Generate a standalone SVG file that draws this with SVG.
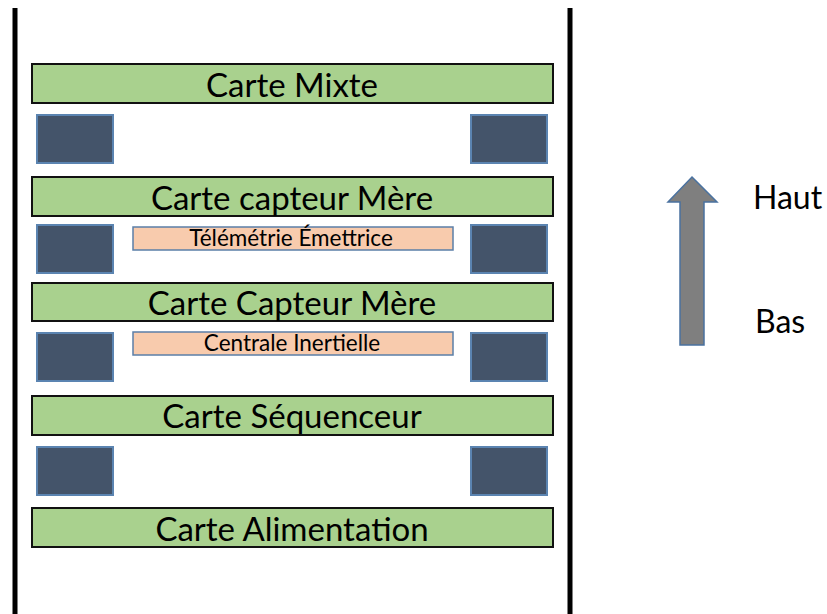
<svg xmlns="http://www.w3.org/2000/svg" width="827" height="614" viewBox="0 0 827 614">
  <style>
    .wall { stroke: #000; stroke-width: 5; }
    .card rect { fill: #A9D18E; stroke: #111; stroke-width: 2; }
    .spacer { fill: #44546A; stroke: #5B84B1; stroke-width: 2; }
    .module rect { fill: #F8CBAD; stroke: #5B7FA8; stroke-width: 1.5; }
    text { font-family: Lato, "Open Sans", "Liberation Sans", sans-serif; fill: #000; }
    .big { font-size: 33px; text-anchor: middle; }
    .small { font-size: 22.5px; text-anchor: middle; }
    .side { font-size: 32px; }
  </style>

  <!-- housing walls -->
  <g id="walls">
    <line class="wall" x1="15" y1="8" x2="15" y2="614"/>
    <line class="wall" x1="570" y1="8" x2="570" y2="614"/>
  </g>

  <!-- spacers between the cards -->
  <g id="spacers">
    <rect class="spacer" x="37" y="115" width="76" height="48"/>
    <rect class="spacer" x="471" y="115" width="76" height="48"/>
    <rect class="spacer" x="37" y="225" width="76" height="48"/>
    <rect class="spacer" x="471" y="225" width="76" height="48"/>
    <rect class="spacer" x="37" y="333" width="76" height="48"/>
    <rect class="spacer" x="471" y="333" width="76" height="48"/>
    <rect class="spacer" x="37" y="447" width="76" height="48"/>
    <rect class="spacer" x="471" y="447" width="76" height="48"/>
  </g>

  <!-- electronic cards -->
  <g id="carte-mixte" class="card">
    <rect x="32" y="64" width="521" height="39"/>
    <text class="big" x="292" y="97">Carte Mixte</text>
  </g>
  <g id="carte-capteur-mere-haut" class="card">
    <rect x="32" y="177" width="521" height="39"/>
    <text class="big" x="292" y="210">Carte capteur Mère</text>
  </g>
  <g id="telemetrie" class="module">
    <rect x="133" y="227" width="320" height="23"/>
    <text class="small" x="291" y="246">Télémétrie Émettrice</text>
  </g>
  <g id="carte-capteur-mere-bas" class="card">
    <rect x="32" y="283" width="521" height="38"/>
    <text class="big" x="292" y="315">Carte Capteur Mère</text>
  </g>
  <g id="centrale-inertielle" class="module">
    <rect x="133" y="332" width="320" height="23"/>
    <text class="small" x="292" y="351">Centrale Inertielle</text>
  </g>
  <g id="carte-sequenceur" class="card">
    <rect x="32" y="396" width="521" height="39"/>
    <text class="big" x="292" y="428">Carte Séquenceur</text>
  </g>
  <g id="carte-alimentation" class="card">
    <rect x="32" y="508" width="521" height="39"/>
    <text class="big" x="292" y="541">Carte Alimentation</text>
  </g>

  <!-- orientation arrow -->
  <g id="orientation">
    <polygon points="692,177 717,202 704,202 704,345 680,345 680,202 668,202" fill="#7F7F7F" stroke="#4A72A0" stroke-width="1.5"/>
    <text class="side" x="753" y="209">Haut</text>
    <text class="side" x="755" y="333">Bas</text>
  </g>
</svg>
